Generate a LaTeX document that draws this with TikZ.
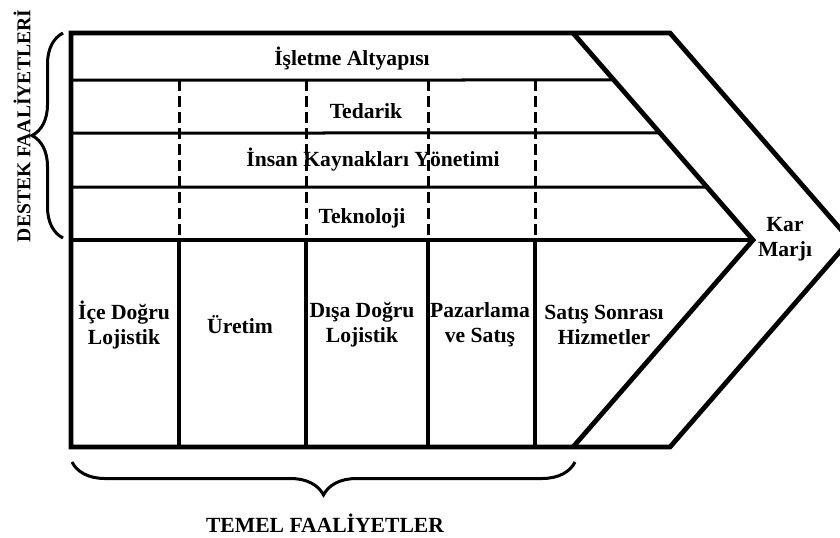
\documentclass[tikz,border=0pt]{standalone}
\usepackage{fontspec}
\setmainfont{Liberation Serif}
\usetikzlibrary{calc,decorations.pathreplacing}
\tikzset{
  frame/.style={black,line width=2.4pt},
  rule/.style={black,line width=1.5pt},
  divider/.style={black,line width=1.8pt},
  omitted/.style={black,line width=1.5pt,dash pattern=on 5.5pt off 2.5pt},
  curly/.style={black,line width=1.5pt,decorate,decoration={brace,amplitude=#1}},
  lab/.style={font=\bfseries\fontsize{10.8}{12.4}\selectfont,align=center,inner sep=0pt},
  sidelab/.style={lab,font=\bfseries\fontsize{9.8}{11}\selectfont},
}

\begin{document}
\begin{tikzpicture}[x=0.5pt,y=-0.5pt]
  \clip (0,0) rectangle (840,537);

  % chevron corners
  \coordinate (TL) at (71,33);
  \coordinate (TR) at (670,33);
  \coordinate (TIP) at (850,240);
  \coordinate (BR) at (670,447);
  \coordinate (BL) at (71,447);
  \coordinate (IT) at (573,33);
  \coordinate (IA) at (753,240);
  \coordinate (IB) at (573,447);
  \coordinate (ML) at (71,240);

  \draw[frame] (TL) -- (TR) -- (TIP) -- (BR) -- (BL) -- cycle;
  \draw[frame] (IT) -- (IA) -- (IB);
  \draw[frame] (ML) -- (IA);

  % support rows and columns
  \foreach \y/\t in {80/0.227,133/0.483,187/0.744}
    \draw[rule] (71,\y) -- ($(IT)!\t!(IA)$);
  \foreach \x in {179,306,428,535}{
    \draw[omitted] (\x,80) -- (\x,240);
    \draw[divider] (\x,240) -- (\x,447);
  }

  \node[lab] (infra) at (352,59) {İşletme Altyapısı};
  \node[lab] (supply) at (366,111) {Tedarik};
  \node[lab] (hrm) at (373,160) {İnsan Kaynakları Yönetimi};
  \node[lab] (tech) at (362,218) {Teknoloji};

  \node[lab] (inlog) at (124,325) {İçe Doğru\\Lojistik};
  \node[lab] (ops) at (240,325) {Üretim};
  \node[lab] (outlog) at (362,325) {Dışa Doğru\\Lojistik};
  \node[lab] (sales) at (480,325) {Pazarlama\\ve Satış};
  \node[lab] (service) at (604,325) {Satış Sonrası\\Hizmetler};
  \node[lab] (margin) at (785,239) {Kar\\Marjı};

  % braces
  \draw[curly=15.5pt] (63,238) -- (63,33);
  \draw[curly=16.5pt] (575,462) -- (72,462);
  \node[sidelab,rotate=90] (support) at (22,126) {DESTEK FAALİYETLERİ};
  \node[lab] (primary) at (325,523) {TEMEL FAALİYETLER};
\end{tikzpicture}
\end{document}
